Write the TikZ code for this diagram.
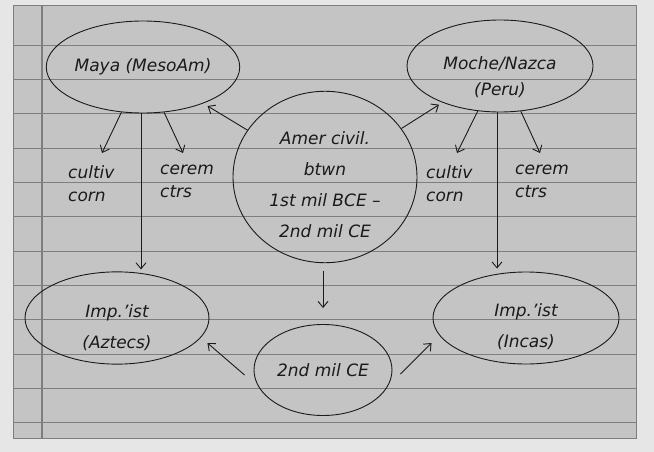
\documentclass[tikz,border=0pt]{standalone}
\usepackage{fontspec}
\setmainfont{DejaVu Sans}
\usetikzlibrary{shapes.geometric,arrows.meta,calc}
\definecolor{paper}{HTML}{C4C4C4}
\definecolor{outside}{HTML}{E6E6E6}
\definecolor{rule}{HTML}{7E7E7E}
\definecolor{ink}{HTML}{1A1A1A}
\begin{document}
\begin{tikzpicture}[x=1pt,y=-1pt,
  oval/.style={ellipse,draw=ink,line width=0.9pt,inner sep=0pt,align=center,text=ink,
    font=\itshape\fontsize{17}{31}\selectfont},
  note/.style={inner sep=0pt,align=left,text=ink,font=\itshape\fontsize{17}{23}\selectfont,anchor=north west},
  arr/.style={draw=ink,line width=0.9pt,-{Straight Barb[length=6pt,width=10pt]}},
  ruling/.style={draw=rule,line width=0.8pt}]
\useasboundingbox (0,0) rectangle (654,452);
\fill[outside] (0,0) rectangle (654,452);
% paper
\filldraw[fill=paper,draw=rule,line width=1pt] (13,6) rectangle (636,438);
\foreach \y in {45,79.3,113.6,148,182.3,216.6,251,285.3,319.6,354,388.3,422.6}
  \draw[ruling] (13,\y) -- (636,\y);
\draw[draw=rule,line width=1.4pt] (42,6) -- (42,438);

% nodes
\node[oval,minimum width=186pt,minimum height=92pt] (maya) at (143,67) {Maya (MesoAm)};
\node[oval,minimum width=186pt,minimum height=92pt,font=\itshape\fontsize{17}{26}\selectfont,text height=61pt] (moche) at (500,66) {Moche/Nazca\\(Peru)};
\node[oval,minimum width=184pt,minimum height=160pt,text height=121pt] (amer) at (325,177) {Amer civil.\\btwn\\1st mil BCE --\\2nd mil CE};
\node[oval,minimum width=184pt,minimum height=92pt,text height=63pt] (azt) at (117,318) {Imp.'ist\\(Aztecs)};
\node[oval,minimum width=186pt,minimum height=92pt,text height=61pt] (inca) at (526,318) {Imp.'ist\\(Incas)};
\node[oval,minimum width=138pt,minimum height=91pt] (mil) at (323,370) {2nd mil CE};

\node[note] (cornL) at (68,165) {cultiv\\corn};
\node[note] (cerL) at (160,165) {cerem\\ctrs};
\node[note] (cornR) at (426,165) {cultiv\\corn};
\node[note] (cerR) at (515,165) {cerem\\ctrs};

% arrow tips
\coordinate (tcornL) at (102,153);
\coordinate (tcerL) at (183,153);
\coordinate (tcornR) at (457,153);
\coordinate (tcerR) at (540,153);

% connectors
\draw[arr,shorten >=5pt] (amer) -- (maya);
\draw[arr,shorten >=4pt] (amer) -- (moche);
\draw[arr] (maya) -- (tcornL);
\draw[arr] (maya) -- (tcerL);
\draw[arr] (moche) -- (tcornR);
\draw[arr] (moche) -- (tcerR);
\draw[arr,shorten >=2pt] ([xshift=-2pt]maya.south) -- ([xshift=-2pt]maya.south |- azt.north);
\draw[arr,shorten >=3pt] ([xshift=-3pt]moche.south) -- ([xshift=-3pt]moche.south |- inca.north);
\draw[arr,shorten <=8pt,shorten >=16pt] ([xshift=-2pt]amer.south) -- ([xshift=-2pt]amer.south |- mil.north);
\draw[arr] ([shift={(-9pt,-5pt)}]mil.west) -- ([shift={(-2pt,-25pt)}]azt.east);
\draw[arr] ([shift={(8pt,-4pt)}]mil.east) -- ([shift={(-1pt,-25pt)}]inca.west);
\end{tikzpicture}
\end{document}
